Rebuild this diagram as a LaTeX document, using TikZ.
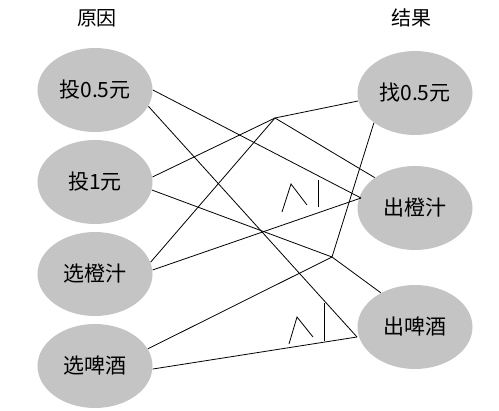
\documentclass[tikz,border=0pt]{standalone}
\usepackage{fontspec}
\newfontfamily\cjkfont{Noto Sans CJK SC}
\usetikzlibrary{shapes.geometric, positioning}
\definecolor{nodegray}{RGB}{196,196,196}

\begin{document}
\begin{tikzpicture}[x=1pt,y=-1pt,-,line width=0.8pt,
  main node/.style={ellipse,fill=nodegray,minimum width=115pt,
  minimum height=84pt,inner sep=0pt,font=\cjkfont\fontsize{21}{24}\selectfont},
  title node/.style={font=\cjkfont\fontsize{20}{24}\selectfont}]
  \useasboundingbox (0,0) rectangle (499,411);

  \node[title node] (TC) at (97,18) {原因};
  \node[title node] (TE) at (411,18) {结果};

  \node[main node] (C1) at (95,90) {投0.5元};
  \node[main node] (C2) at (95,182) {投1元};
  \node[main node] (C3) at (95,274) {选橙汁};
  \node[main node] (C4) at (95,366) {选啤酒};

  \node[main node] (E1) at (415,93) {找0.5元};
  \node[main node] (E2) at (415,208) {出橙汁};
  \node[main node] (E3) at (415,327) {出啤酒};

  \coordinate (J1) at (275,118);
  \coordinate (J2) at (332,257);
  \coordinate (J3) at (361,198);
  \coordinate (J4) at (357,337);

  \path
     (C2.5) edge (J1)
     (C3.12) edge (J1)
     (J1) edge (E1.188)
     (J1) edge (E2.143)
     (C2.-8) edge (J2)
     (C4.18) edge (J2)
     (J2) edge (E1.216)
     (J2) edge (E3.135)
     (C1.east) edge (J3)
     (C3.4) edge (J3)
     (C1.-17) edge (J4)
     (C4.-3) edge (J4);

  % and marks
  \draw (282,212) -- (291,184) -- (307,205);
  \draw (318,180) -- (318,207);
  \draw (289,344) -- (297,317) -- (313,337);
  \draw (324,303) -- (324,341);
\end{tikzpicture}
\end{document}
